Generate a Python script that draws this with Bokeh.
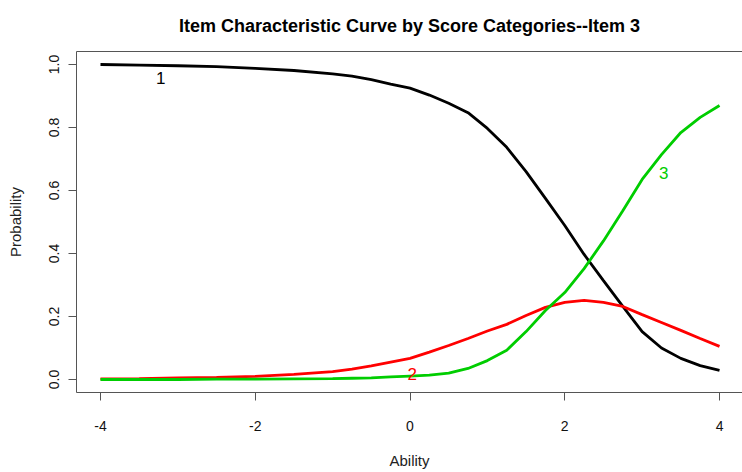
from bokeh.plotting import figure
from bokeh.models import LinearAxis, Range1d, FixedTicker, Title, Label
from bokeh.embed import file_html
from bokeh.resources import INLINE

theta = [-4, -3.5, -3, -2.5, -2, -1.5, -1, -0.75, -0.5, -0.25, 0, 0.25, 0.5,
         0.75, 1, 1.25, 1.5, 1.75, 2, 2.25, 2.5, 2.75, 3, 3.25, 3.5, 3.75, 4]
cat1 = [1.000, 0.998, 0.996, 0.993, 0.988, 0.981, 0.970, 0.963, 0.952, 0.938,
        0.925, 0.903, 0.877, 0.847, 0.797, 0.737, 0.660, 0.575, 0.489, 0.397,
        0.314, 0.232, 0.152, 0.100, 0.067, 0.044, 0.029]
cat2 = [0.002, 0.003, 0.005, 0.007, 0.010, 0.016, 0.025, 0.033, 0.043, 0.055,
        0.067, 0.087, 0.108, 0.130, 0.154, 0.175, 0.203, 0.229, 0.245, 0.251,
        0.245, 0.232, 0.206, 0.181, 0.156, 0.130, 0.105]
cat3 = [0.000, 0.000, 0.000, 0.001, 0.001, 0.002, 0.003, 0.004, 0.005, 0.008,
        0.011, 0.014, 0.020, 0.035, 0.060, 0.093, 0.152, 0.219, 0.276, 0.352,
        0.440, 0.536, 0.635, 0.714, 0.784, 0.832, 0.870]
curve_labels = ["1", "2", "3"]
label_x = [-3.22, 0.03, 3.28]
label_y = [0.957, 0.018, 0.657]
colors = ["#000000", "#FF0000", "#00CD00"]
x_ticks = [-4, -2, 0, 2, 4]
x_tick_labels = ["-4", "-2", "0", "2", "4"]
y_ticks = [0.0, 0.2, 0.4, 0.6, 0.8, 1.0]
y_tick_labels = ["0.0", "0.2", "0.4", "0.6", "0.8", "1.0"]

FONT = "Liberation Sans"
GRAY = "#555555"

p = figure(width=742, height=472, output_backend="svg", toolbar_location=None,
           title=None,
           x_range=Range1d(-4.31, 4.297), y_range=Range1d(-0.0413, 1.0413),
           min_border_left=76, min_border_right=0, min_border_top=51,
           min_border_bottom=80, x_axis_location=None, y_axis_location=None)
p.outline_line_color = None
p.grid.visible = False
p.background_fill_color = "white"
p.border_fill_color = "white"

top = LinearAxis(ticker=FixedTicker(ticks=[]), major_label_text_font_size="0px")
top.axis_line_color = GRAY
top.major_tick_line_color = None
top.minor_tick_line_color = None
top.major_tick_out = 0
top.major_label_standoff = 0
p.add_layout(top, "above")

t = Title(text="Item Characteristic Curve by Score Categories--Item 3",
          align="center", vertical_align="top", text_font=FONT,
          text_font_size="18px", text_font_style="bold",
          text_color="#000000", standoff=28)
p.add_layout(t, "above")

xa = LinearAxis(ticker=FixedTicker(ticks=x_ticks), axis_label="Ability")
ya = LinearAxis(ticker=FixedTicker(ticks=y_ticks), axis_label="Probability")
for ax in (xa, ya):
    ax.axis_line_color = GRAY
    ax.major_tick_line_color = GRAY
    ax.major_tick_out = 8
    ax.major_tick_in = 0
    ax.minor_tick_line_color = None
    ax.major_label_text_font = FONT
    ax.major_label_text_font_size = "14px"
    ax.major_label_text_color = "#111111"
    ax.axis_label_text_font = FONT
    ax.axis_label_text_font_size = "15px"
    ax.axis_label_text_font_style = "normal"
    ax.axis_label_text_color = "#222222"
xa.major_label_overrides = dict(zip(x_ticks, x_tick_labels))
ya.major_label_overrides = dict(zip(y_ticks, y_tick_labels))
xa.major_label_standoff = 20
xa.axis_label_standoff = 18
ya.major_label_orientation = "vertical"
ya.major_label_standoff = 9
ya.axis_label_standoff = 23
p.add_layout(xa, "below")
p.add_layout(ya, "left")

for ys, c in zip([cat1, cat2, cat3], colors):
    p.line(theta, ys, line_color=c, line_width=2.8)

for lab, lx, ly, c in zip(curve_labels, label_x, label_y, colors):
    p.add_layout(Label(x=lx, y=ly, text=lab, text_color=c, text_font=FONT,
                       text_font_size="17px", text_align="center",
                       text_baseline="middle"))

open("out.html", "w").write(file_html(p, INLINE))
